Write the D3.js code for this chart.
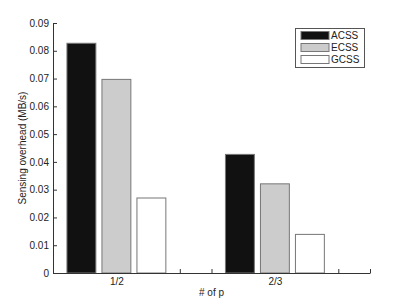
<!DOCTYPE html>
<html>
<head>
<meta charset="utf-8">
<script src="https://cdn.jsdelivr.net/npm/d3@7"></script>
<style>
  body { margin: 0; background: #fff; }
  svg { display: block; font-family: "Liberation Sans", Arial, sans-serif; }
</style>
</head>
<body>
<div id="chart"></div>
<script>
// groups on the x axis (position in axis units) and their labels
const groupPos = [2, 7];
const groupLabels = ["1/2", "2/3"];
const series = ["ACSS", "ECSS", "GCSS"];
const acss = [0.0827, 0.0427];
const ecss = [0.0697, 0.0321];
const gcss = [0.0270, 0.0139];
const yTicks = [0, 0.01, 0.02, 0.03, 0.04, 0.05, 0.06, 0.07, 0.08, 0.09];
const xTicks = [0, 1, 2, 3, 4, 5, 6, 7, 8, 9, 10];

const colors = { ACSS: "#111111", ECSS: "#cccccc", GCSS: "#ffffff" };
const values = { ACSS: acss, ECSS: ecss, GCSS: gcss };

const width = 409, height = 308;
const mLeft = 53, mRight = 370, mTop = 23, mBottom = 273;

const svg = d3.select("#chart").append("svg")
  .attr("width", width)
  .attr("height", height);

const x = d3.scaleLinear().domain([0, 10]).range([mLeft, mRight]);
const y = d3.scaleLinear().domain([0, 0.09]).range([mBottom, mTop]);

// position of each series inside a group, in axis units
const inner = d3.scaleBand().domain(series).range([-1.56, 1.56])
  .paddingInner(0.174).paddingOuter(0);

const labelAt = {};
groupPos.forEach((p, i) => labelAt[p] = groupLabels[i]);

// axes first, bars cover the ticks
const yAxis = d3.axisLeft(y).tickValues(yTicks)
  .tickSizeInner(-4).tickSizeOuter(0).tickPadding(4)
  .tickFormat(d => d === 0 ? "0" : d3.format(".2f")(d));
const gy = svg.append("g").attr("transform", `translate(${mLeft},0)`).call(yAxis);

const xAxis = d3.axisBottom(x).tickValues(xTicks)
  .tickSizeInner(-4).tickSizeOuter(0).tickPadding(5)
  .tickFormat(d => labelAt[d] || "");
const gx = svg.append("g").attr("transform", `translate(0,${mBottom})`).call(xAxis);

[gx, gy].forEach(g => {
  g.selectAll("path, line").attr("stroke", "#333");
  g.selectAll("text").attr("fill", "#222").style("font-size", "10px");
});

const rows = [];
groupPos.forEach((p, gi) => {
  series.forEach(s => rows.push({ pos: p, s: s, v: values[s][gi] }));
});

const bw = x(inner.bandwidth()) - x(0);
svg.append("g").selectAll("rect")
  .data(rows)
  .enter()
  .append("rect")
  .attr("x", d => x(d.pos + inner(d.s)))
  .attr("y", d => y(d.v))
  .attr("width", bw)
  .attr("height", d => mBottom - y(d.v))
  .attr("fill", d => colors[d.s])
  .attr("stroke", "#777")
  .attr("stroke-width", 1);

// redraw baseline over the bars
svg.append("line")
  .attr("x1", mLeft).attr("x2", mRight)
  .attr("y1", mBottom + 0.5).attr("y2", mBottom + 0.5)
  .attr("stroke", "#333");

// axis titles
svg.append("text")
  .attr("transform", `translate(26,${(mTop + mBottom) / 2}) rotate(-90)`)
  .attr("text-anchor", "middle")
  .style("font-size", "10px")
  .attr("fill", "#222")
  .text("Sensing overhead (MB/s)");

svg.append("text")
  .attr("x", (mLeft + mRight) / 2)
  .attr("y", 296)
  .attr("text-anchor", "middle")
  .style("font-size", "10px")
  .attr("fill", "#222")
  .text("# of p");

// legend
const legend = svg.append("g").attr("transform", "translate(295,28)");
legend.append("rect")
  .attr("x", 0.5).attr("y", 0.5)
  .attr("width", 69).attr("height", 39)
  .attr("fill", "#fff").attr("stroke", "#555");
series.forEach((s, i) => {
  legend.append("rect")
    .attr("x", 6).attr("y", 3.5 + i * 12)
    .attr("width", 28).attr("height", 8)
    .attr("fill", colors[s]).attr("stroke", "#777");
  legend.append("text")
    .attr("x", 36).attr("y", 11 + i * 12)
    .style("font-size", "10px")
    .attr("fill", "#222")
    .text(s);
});
</script>
</body>
</html>
